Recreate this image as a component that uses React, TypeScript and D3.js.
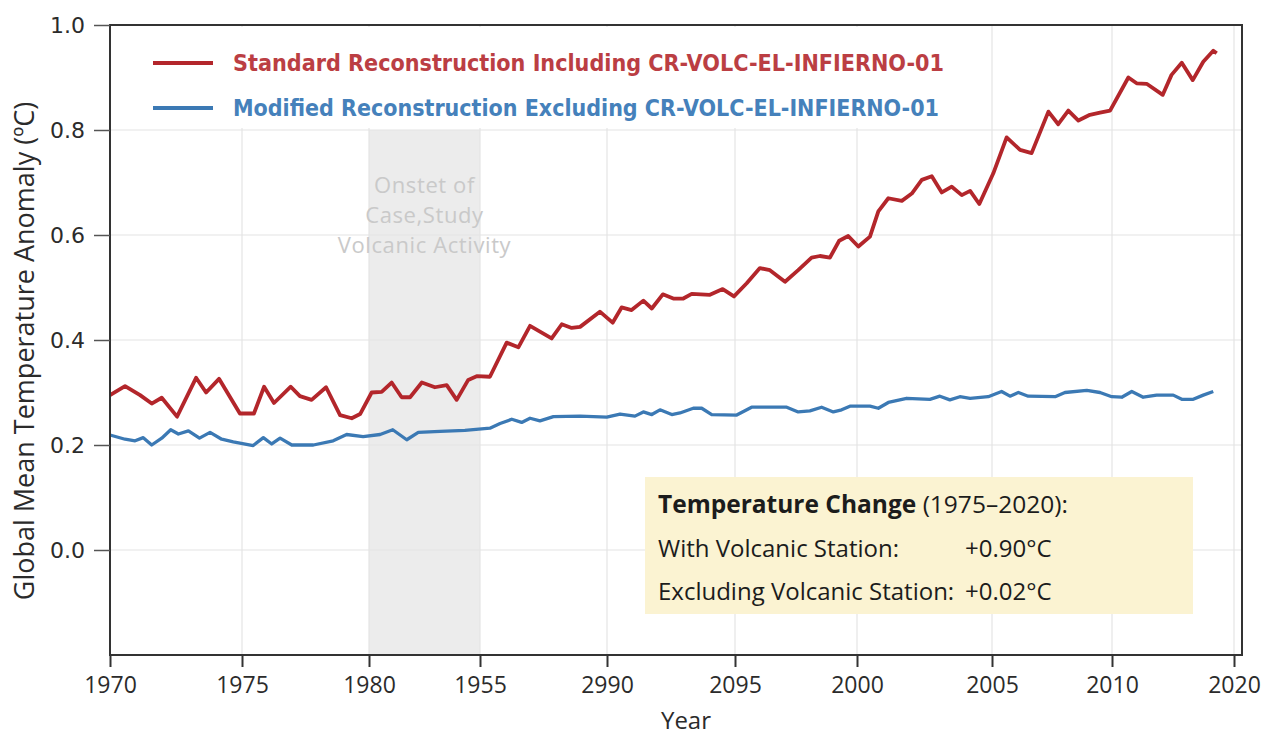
import * as d3 from "d3";
import { useEffect, useRef } from "react";

// x axis: the figure's tick labels are printed as they appear in the source
const xTickYears = [1970, 1975, 1980, 1985, 1990, 1995, 2000, 2005, 2010, 2015];
const xTickLabels = ["1970", "1975", "1980", "1955", "2990", "2095", "2000", "2005", "2010", "2020"];
const yTicks = [0.0, 0.2, 0.4, 0.6, 0.8, 1.0];

const standardYears = [
    1970.0, 1970.57, 1971.14, 1971.58, 1971.96, 1972.54, 1973.26, 1973.64, 1974.13, 1974.92,
    1975.47, 1975.87, 1976.26, 1976.92, 1977.28, 1977.74, 1978.31, 1978.86, 1979.32, 1979.65,
    1980.12, 1980.57, 1981.02, 1981.47, 1981.85, 1982.38, 1982.97, 1983.5, 1983.95, 1984.47,
    1984.85, 1985.39, 1986.05, 1986.51, 1986.97, 1987.82, 1988.22, 1988.61, 1988.94, 1989.72,
    1990.22, 1990.57, 1990.96, 1991.42, 1991.75, 1992.18, 1992.59, 1992.98, 1993.31, 1994.02,
    1994.52, 1994.96, 1995.48, 1996.02, 1996.43, 1997.05, 1997.59, 1998.14, 1998.48, 1998.89,
    1999.27, 1999.64, 2000.05, 2000.48, 2000.79, 2001.16, 2001.66, 2002.03, 2002.4, 2002.77,
    2003.14, 2003.51, 2003.88, 2004.19, 2004.53, 2005.05, 2005.61, 2006.17, 2006.65, 2007.35,
    2007.76, 2008.18, 2008.6, 2009.08, 2009.5, 2009.92, 2010.67, 2011.01, 2011.42, 2012.08,
    2012.44, 2012.86, 2013.31, 2013.74, 2014.15, 2014.29,
];
const standardValues = [
    0.295, 0.312, 0.295, 0.279, 0.29, 0.254, 0.328, 0.3, 0.326, 0.26,
    0.26, 0.311, 0.28, 0.311, 0.293, 0.286, 0.31, 0.257, 0.251, 0.259,
    0.3, 0.301, 0.319, 0.291, 0.291, 0.319, 0.31, 0.314, 0.286, 0.324,
    0.331, 0.33, 0.395, 0.386, 0.427, 0.403, 0.43, 0.423, 0.425, 0.454,
    0.433, 0.462, 0.457, 0.475, 0.46, 0.487, 0.479, 0.479, 0.488, 0.486,
    0.497, 0.483, 0.508, 0.537, 0.533, 0.511, 0.533, 0.557, 0.56, 0.557,
    0.589, 0.598, 0.578, 0.597, 0.645, 0.67, 0.665, 0.679, 0.705, 0.712,
    0.681, 0.692, 0.676, 0.684, 0.659, 0.717, 0.786, 0.762, 0.756, 0.835,
    0.811, 0.837, 0.818, 0.829, 0.833, 0.837, 0.9, 0.889, 0.888, 0.867,
    0.905, 0.928, 0.895, 0.93, 0.951, 0.946,
];

const modifiedYears = [
    1970.0, 1970.57, 1970.95, 1971.26, 1971.58, 1971.96, 1972.3, 1972.59, 1972.97, 1973.39,
    1973.79, 1974.23, 1974.67, 1975.44, 1975.84, 1976.17, 1976.5, 1976.96, 1977.81, 1978.59,
    1979.12, 1979.77, 1980.5, 1981.07, 1981.7, 1982.22, 1983.2, 1984.32, 1985.39, 1985.79,
    1986.25, 1986.64, 1986.97, 1987.36, 1987.89, 1988.94, 1989.99, 1990.51, 1991.09, 1991.42,
    1991.75, 1992.07, 1992.53, 1992.85, 1993.37, 1993.7, 1994.09, 1995.07, 1995.68, 1997.12,
    1997.59, 1998.07, 1998.55, 1999.03, 1999.37, 1999.71, 2000.48, 2000.79, 2001.16, 2001.84,
    2002.7, 2003.07, 2003.44, 2003.81, 2004.19, 2004.86, 2005.4, 2005.75, 2006.1, 2006.51,
    2007.63, 2008.04, 2008.95, 2009.5, 2009.99, 2010.4, 2010.81, 2011.28, 2011.83, 2012.51,
    2012.86, 2013.33, 2013.74, 2014.15,
];
const modifiedValues = [
    0.219, 0.211, 0.208, 0.214, 0.2, 0.213, 0.229, 0.221, 0.227, 0.213,
    0.224, 0.211, 0.206, 0.199, 0.214, 0.202, 0.213, 0.2, 0.2, 0.208,
    0.22, 0.216, 0.22, 0.229, 0.21, 0.224, 0.226, 0.228, 0.232, 0.241,
    0.249, 0.243, 0.251, 0.246, 0.254, 0.255, 0.253, 0.259, 0.255, 0.263,
    0.258, 0.267, 0.258, 0.261, 0.27, 0.27, 0.258, 0.257, 0.272, 0.272,
    0.263, 0.265, 0.272, 0.263, 0.267, 0.274, 0.274, 0.27, 0.281, 0.289,
    0.287, 0.293, 0.286, 0.292, 0.289, 0.292, 0.302, 0.293, 0.3, 0.293,
    0.292, 0.3, 0.304, 0.3, 0.292, 0.291, 0.302, 0.291, 0.295, 0.295,
    0.287, 0.287, 0.295, 0.302,
];

const seriesLabels = [
    "Standard Reconstruction Including CR-VOLC-EL-INFIERNO-01",
    "Modified Reconstruction Excluding CR-VOLC-EL-INFIERNO-01",
];
const shadeYears = [1980, 1985];
const shadeTopValue = 0.8;
const shadeText = ["Onstet of", "Case,Study", "Volcanic Activity"];
const boxTitle = ["Temperature Change", " (1975–2020):"];
const boxRows = [
    ["With Volcanic Station:", "+0.90°C"],
    ["Excluding Volcanic Station:", "+0.02°C"],
];

export default function App() {
    const ref = useRef<SVGSVGElement | null>(null);

    useEffect(() => {
        if (!ref.current) return;
        const svg = d3.select(ref.current);
        svg.selectAll("*").remove();

        const width = 1277;
        const height = 738;
        const left = 110;
        const top = 25;
        const right = 1242;
        const bottom = 655;
        // the source's tick spacing is uneven, so the x scale is piecewise
        const xTickOffsets = [0, 132, 259, 370, 497, 625, 747, 882, 1002, 1124];

        svg.attr("width", width).attr("height", height);

        const x = d3
            .scaleLinear()
            .domain(xTickYears)
            .range(xTickOffsets.map((o) => left + o));
        const y = d3.scaleLinear().domain([-0.2, 1.0]).range([bottom, top]);

        const sans = "'Open Sans', 'DejaVu Sans', sans-serif";
        const narrow = "'Liberation Sans Narrow', 'DejaVu Sans Condensed', 'Roboto', sans-serif";
        const ink = "#2b2b2b";

        svg.append("rect").attr("width", width).attr("height", height).attr("fill", "#fff");

        // shaded onset band
        svg.append("rect")
            .attr("x", x(shadeYears[0]))
            .attr("y", y(shadeTopValue))
            .attr("width", x(shadeYears[1]) - x(shadeYears[0]))
            .attr("height", bottom - y(shadeTopValue))
            .attr("fill", "#ececec");

        // grid
        const grid = svg.append("g").attr("stroke", "#e4e4e4").attr("stroke-width", 1.2);
        for (const t of yTicks) {
            grid.append("line").attr("x1", left).attr("x2", right).attr("y1", y(t)).attr("y2", y(t));
        }
        for (const t of xTickYears.slice(1)) {
            grid.append("line").attr("x1", x(t)).attr("x2", x(t)).attr("y1", top).attr("y2", bottom);
        }

        // shaded band caption
        const cap = svg
            .append("text")
            .attr("font-family", sans)
            .attr("font-size", 22)
            .attr("letter-spacing", 0.6)
            .attr("fill", "#c9c9c9")
            .attr("text-anchor", "middle");
        shadeText.forEach((s, i) => {
            cap.append("tspan")
                .attr("x", (x(shadeYears[0]) + x(shadeYears[1])) / 2)
                .attr("y", 193 + i * 30)
                .text(s);
        });

        // legend background hides the grid behind it
        svg.append("rect")
            .attr("x", left + 2)
            .attr("y", top + 2)
            .attr("width", 855)
            .attr("height", 101)
            .attr("fill", "#fff");

        const colors = ["#b3262b", "#3b79b4"];
        const textColors = ["#bb3e43", "#4581bb"];
        const legendWidths = [711, 706];
        seriesLabels.forEach((label, i) => {
            const ly = 63 + i * 45;
            svg.append("line")
                .attr("x1", 153)
                .attr("x2", 213)
                .attr("y1", ly)
                .attr("y2", ly)
                .attr("stroke", colors[i])
                .attr("stroke-width", 4);
            svg.append("text")
                .attr("x", 233)
                .attr("y", ly + 8)
                .attr("font-family", narrow)
                .attr("font-weight", "bold")
                .attr("font-size", 23)
                .attr("fill", textColors[i])
                .attr("textLength", legendWidths[i])
                .attr("lengthAdjust", "spacingAndGlyphs")
                .text(label);
        });

        // lines
        const line = d3
            .line<[number, number]>()
            .x((d) => x(d[0]))
            .y((d) => y(d[1]));
        const standard = standardYears.map((yr, i) => [yr, standardValues[i]] as [number, number]);
        const modified = modifiedYears.map((yr, i) => [yr, modifiedValues[i]] as [number, number]);
        [standard, modified].forEach((pts, i) => {
            svg.append("path")
                .datum(pts)
                .attr("fill", "none")
                .attr("stroke", colors[i])
                .attr("stroke-width", i === 0 ? 3.8 : 3.3)
                .attr("stroke-linejoin", "round")
                .attr("d", line);
        });

        // info box
        const bx = 645;
        const by = 477;
        svg.append("rect")
            .attr("x", bx)
            .attr("y", by)
            .attr("width", 548)
            .attr("height", 137)
            .attr("fill", "#fbf3d2");
        const title = svg
            .append("text")
            .attr("x", bx + 13)
            .attr("y", by + 36)
            .attr("font-family", sans)
            .attr("font-size", 24.5)
            .attr("fill", "#1c1c1c");
        title.append("tspan").attr("font-weight", "bold").text(boxTitle[0]);
        title.append("tspan").text(boxTitle[1]);
        boxRows.forEach(([k, v], i) => {
            const ty = by + 80 + i * 43;
            svg.append("text")
                .attr("x", bx + 13)
                .attr("y", ty)
                .attr("font-family", sans)
                .attr("font-size", 24)
                .attr("fill", "#1c1c1c")
                .text(k);
            svg.append("text")
                .attr("x", bx + 320)
                .attr("y", ty)
                .attr("font-family", sans)
                .attr("font-size", 24)
                .attr("fill", "#1c1c1c")
                .text(v);
        });

        // frame
        svg.append("rect")
            .attr("x", left)
            .attr("y", top)
            .attr("width", right - left)
            .attr("height", bottom - top)
            .attr("fill", "none")
            .attr("stroke", "#333")
            .attr("stroke-width", 2);

        // axes
        const yAxis = svg
            .append("g")
            .attr("transform", `translate(${left},0)`)
            .call(
                d3
                    .axisLeft(y)
                    .tickValues(yTicks)
                    .tickFormat(d3.format(".1f"))
                    .tickSize(16)
                    .tickPadding(9),
            );
        yAxis.select(".domain").remove();
        yAxis.selectAll("line").attr("stroke", "#555").attr("stroke-width", 1.5);
        yAxis.selectAll("text")
            .attr("font-family", "'DejaVu Sans', sans-serif")
            .attr("font-size", 22)
            .attr("fill", ink);

        const xAxis = svg
            .append("g")
            .attr("transform", `translate(0,${bottom})`)
            .call(
                d3
                    .axisBottom(x)
                    .tickValues(xTickYears)
                    .tickFormat((_, i) => xTickLabels[i])
                    .tickSize(12)
                    .tickPadding(10),
            );
        xAxis.select(".domain").remove();
        xAxis.selectAll("line").attr("stroke", "#333").attr("stroke-width", 2);
        xAxis.selectAll("text")
            .attr("font-family", sans)
            .attr("font-size", 23)
            .attr("fill", ink);

        svg.append("text")
            .attr("x", 686)
            .attr("y", 729)
            .attr("text-anchor", "middle")
            .attr("font-family", sans)
            .attr("font-size", 24)
            .attr("fill", ink)
            .text("Year");

        svg.append("text")
            .attr("transform", "translate(34,351) rotate(-90)")
            .attr("text-anchor", "middle")
            .attr("font-family", sans)
            .attr("font-size", 27)
            .attr("fill", ink)
            .text("Global Mean Temperature Anomaly (ºC)");
    }, []);

    return (
        <svg
            ref={ref}
            style={{ position: "absolute", left: 0, top: 0, display: "block" }}
        ></svg>
    );
}
